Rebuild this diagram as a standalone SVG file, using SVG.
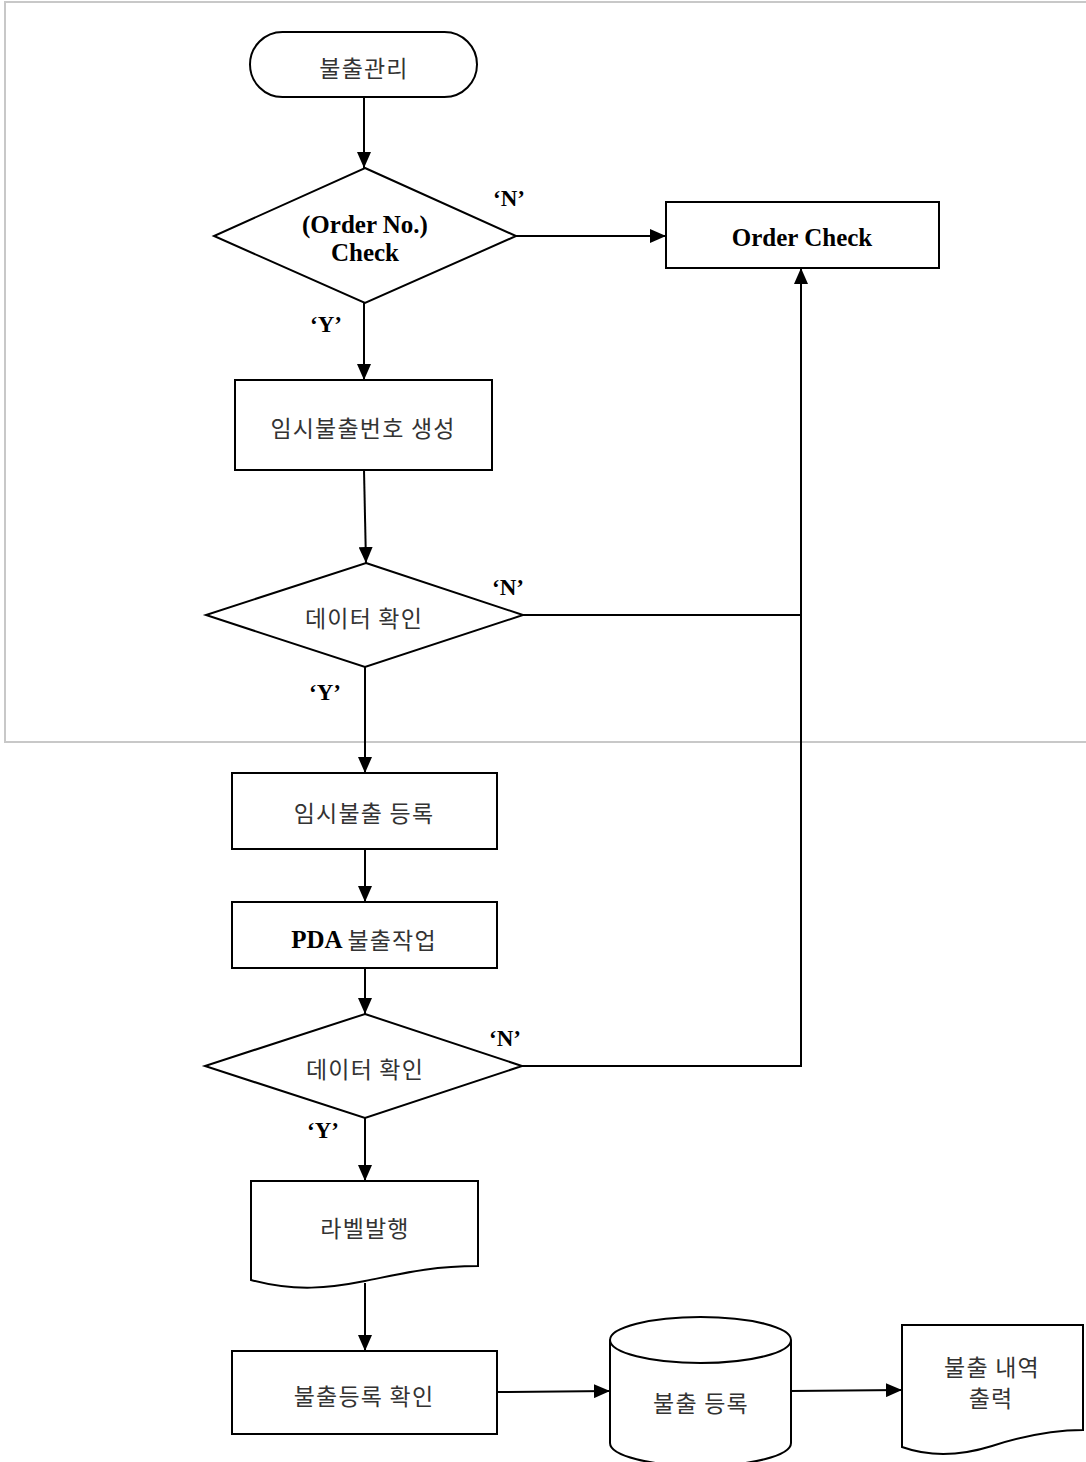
<svg xmlns="http://www.w3.org/2000/svg" width="1086" height="1462" viewBox="0 0 1086 1462">
<style>
.shape{fill:#fff;stroke:#000;stroke-width:2}
.ln{fill:none;stroke:#000;stroke-width:2}
.ko{font-family:"Noto Sans CJK KR","Noto Sans",sans-serif;font-size:23px;fill:#333;letter-spacing:1.2px;text-anchor:middle;dominant-baseline:central}
.en{font-family:"Liberation Serif",serif;font-weight:bold;font-size:25px;fill:#000;text-anchor:middle}
.lb{font-family:"Liberation Serif",serif;font-weight:bold;font-size:23px;fill:#000;text-anchor:middle}
</style>
<defs>
<marker id="ah" markerUnits="userSpaceOnUse" markerWidth="16" markerHeight="14" refX="16" refY="7" orient="auto">
<path d="M0,0 L16,7 L0,14 Z" fill="#000"/>
</marker>
</defs>
<rect x="0" y="0" width="1086" height="1462" fill="#fff"/>
<rect x="5" y="2" width="1100" height="740" fill="none" stroke="#c8c8c8" stroke-width="2"/>

<g id="connectors">
<path class="ln" d="M364,97 L364,168" marker-end="url(#ah)"/>
<path class="ln" d="M516,236 L666,236" marker-end="url(#ah)"/>
<path class="ln" d="M364,303 L364,380" marker-end="url(#ah)"/>
<path class="ln" d="M364,470 L366,563" marker-end="url(#ah)"/>
<path class="ln" d="M523,615 L801,615"/>
<path class="ln" d="M522,1066 L801,1066 L801,268" marker-end="url(#ah)"/>
<path class="ln" d="M365,667 L365,773" marker-end="url(#ah)"/>
<path class="ln" d="M365,849 L365,902" marker-end="url(#ah)"/>
<path class="ln" d="M365,968 L365,1014" marker-end="url(#ah)"/>
<path class="ln" d="M365,1118 L365,1181" marker-end="url(#ah)"/>
<path class="ln" d="M365,1283 L365,1351" marker-end="url(#ah)"/>
<path class="ln" d="M497,1392 L610,1391" marker-end="url(#ah)"/>
<path class="ln" d="M791,1391 L902,1390" marker-end="url(#ah)"/>
<text class="lb" x="509" y="206">‘N’</text>
<text class="lb" x="326" y="332">‘Y’</text>
<text class="lb" x="508" y="595">‘N’</text>
<text class="lb" x="325" y="700">‘Y’</text>
<text class="lb" x="505" y="1046">‘N’</text>
<text class="lb" x="323" y="1138">‘Y’</text>
</g>

<g id="start">
<rect class="shape" x="250" y="32" width="227" height="65" rx="32.5"/>
<text class="ko" x="364" y="67">불출관리</text>
</g>

<g id="orderNoCheck">
<polygon class="shape" points="365,168 516,236 365,303 214,236"/>
<text class="en" x="365" y="233">(Order No.)</text>
<text class="en" x="365" y="261">Check</text>
</g>

<g id="orderCheck">
<rect class="shape" x="666" y="202" width="273" height="66"/>
<text class="en" x="802" y="246">Order Check</text>
</g>

<g id="tempNo">
<rect class="shape" x="235" y="380" width="257" height="90"/>
<text class="ko" x="363" y="427">임시불출번호 생성</text>
</g>

<g id="dataCheck1">
<polygon class="shape" points="366,563 523,615 365,667 206,615"/>
<text class="ko" x="364" y="617">데이터 확인</text>
</g>

<g id="tempReg">
<rect class="shape" x="232" y="773" width="265" height="76"/>
<text class="ko" x="364" y="812">임시불출 등록</text>
</g>

<g id="pdaWork">
<rect class="shape" x="232" y="902" width="265" height="66"/>
<text x="364" y="939" style="text-anchor:middle;dominant-baseline:central"><tspan style="font-family:'Liberation Serif',serif;font-weight:bold;font-size:25px;fill:#000">PDA </tspan><tspan style="font-family:'Noto Sans CJK KR',sans-serif;font-size:23px;fill:#333;letter-spacing:1.2px">불출작업</tspan></text>
</g>

<g id="dataCheck2">
<polygon class="shape" points="365,1014 522,1066 365,1118 205,1066"/>
<text class="ko" x="365" y="1068">데이터 확인</text>
</g>

<g id="label">
<path class="shape" d="M251,1181 L478,1181 L478,1266 C430,1266 400,1274 365,1281 C330,1288 295,1292 251,1280 Z"/>
<text class="ko" x="365" y="1227">라벨발행</text>
</g>

<g id="regCheck">
<rect class="shape" x="232" y="1351" width="265" height="83"/>
<text class="ko" x="364" y="1395">불출등록 확인</text>
</g>

<g id="db">
<path class="shape" d="M610,1340 L610,1443 A90.5,23 0 0 0 791,1443 L791,1340 A90.5,23 0 0 0 610,1340 Z"/>
<path class="ln" d="M610,1340 A90.5,23 0 0 0 791,1340"/>
<text class="ko" x="701" y="1402">불출 등록</text>
</g>

<g id="print">
<path class="shape" d="M902,1325 L1083,1325 L1083,1430 C1050,1430 1020,1437 992,1446 C960,1456 930,1457 902,1447 Z"/>
<text class="ko" x="992" y="1366">불출 내역</text>
<text class="ko" x="991" y="1397">출력</text>
</g>
</svg>
